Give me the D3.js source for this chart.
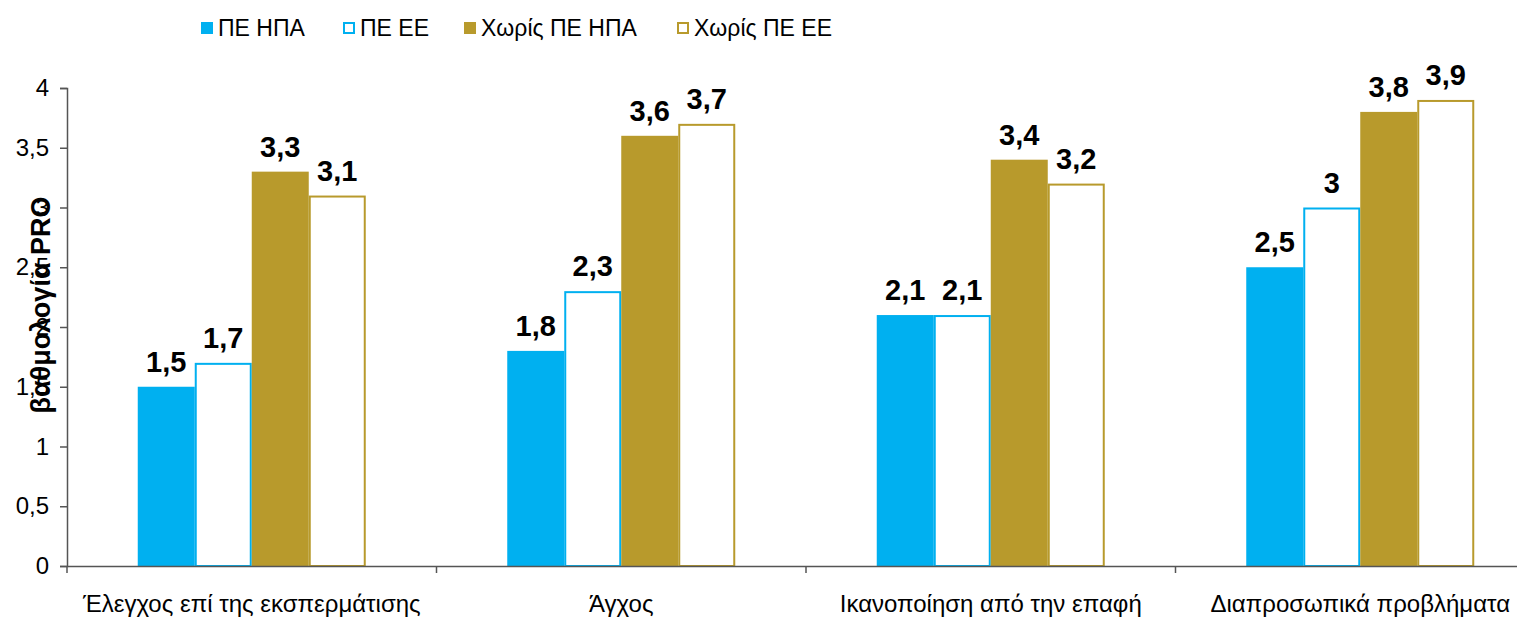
<!DOCTYPE html>
<html><head><meta charset="utf-8">
<script src="https://cdn.jsdelivr.net/npm/d3@7"></script>
<style>
html,body{margin:0;padding:0;background:#fff;}
svg{display:block;font-family:"Liberation Sans",Arial,sans-serif;}
</style></head>
<body><svg id="c" width="1517" height="621"></svg>
<script>
const categories = ["Έλεγχος επί της εκσπερμάτισης","Άγχος","Ικανοποίηση από την επαφή","Διαπροσωπικά προβλήματα"];
const seriesNames = ["ΠΕ ΗΠΑ","ΠΕ ΕΕ","Χωρίς ΠΕ ΗΠΑ","Χωρίς ΠΕ ΕΕ"];
const peUSA = [1.5,1.8,2.1,2.5];
const peEU = [1.7,2.3,2.1,3.0];
const noPeUSA = [3.3,3.6,3.4,3.8];
const noPeEU = [3.1,3.7,3.2,3.9];
const yTicks = [0,0.5,1,1.5,2,2.5,3,3.5,4];
const yLabel = "βαθμολογία PRO";

const seriesValues = [peUSA, peEU, noPeUSA, noPeEU];
const fills = ["#00B0F0","#FFFFFF","#B89A2C","#FFFFFF"];
const strokes = ["#00B0F0","#00B0F0","#B89A2C","#B89A2C"];
const fmt = v => String(v).replace(".", ",");

const svg = d3.select("#c");
const x0 = 67, yBase = 566, yTop = 88, band = 369.5;
const x = d3.scaleBand().domain(categories).range([x0, x0 + band*categories.length]).paddingInner(0).paddingOuter(0);
const y = d3.scaleLinear().domain([0,4]).range([yBase, yTop]);
const groupW = 228;
const xs = d3.scaleBand().domain(seriesNames).range([0, groupW]);

// bars
const g = svg.append("g");
categories.forEach((c, ci) => {
  const gx = x(c) + (x.bandwidth() - groupW)/2;
  seriesNames.forEach((s, si) => {
    const v = seriesValues[si][ci];
    const bx = gx + xs(s), bw = xs.bandwidth();
    const outline = fills[si] === "#FFFFFF";
    g.append("rect")
      .attr("x", outline ? bx + 1 : bx)
      .attr("y", y(v) + (outline ? 1 : 0))
      .attr("width", outline ? bw - 2 : bw)
      .attr("height", yBase - y(v) - (outline ? 1 : 0))
      .attr("fill", fills[si])
      .attr("stroke", outline ? strokes[si] : "none")
      .attr("stroke-width", outline ? 2 : 0);
    g.append("text")
      .attr("x", bx + bw/2)
      .attr("y", y(v) - 15)
      .attr("text-anchor", "middle")
      .attr("font-weight", "bold")
      .attr("font-size", 29)
      .attr("fill", "#000")
      .text(fmt(v));
  });
});

// y axis
const yAxis = d3.axisLeft(y).tickValues(yTicks).tickSize(7).tickPadding(11).tickFormat(fmt);
const ya = svg.append("g").attr("transform", `translate(${x0},0)`).call(yAxis);
ya.select(".domain").attr("stroke", "#555").attr("stroke-width", 1.5);
ya.selectAll(".tick line").attr("stroke", "#555").attr("stroke-width", 1.5);
ya.selectAll(".tick text").attr("font-size", 24).attr("fill", "#000").attr("font-family", "Liberation Sans, Arial, sans-serif");

// x axis
const xAxis = d3.axisBottom(x).tickValues([]).tickSizeOuter(0);
const xa = svg.append("g").attr("transform", `translate(0,${yBase})`).call(xAxis);
xa.select(".domain").attr("stroke", "#555").attr("stroke-width", 1.5);
categories.forEach((c, i) => {
  xa.append("line").attr("x1", x(c)).attr("x2", x(c)).attr("y1", 0).attr("y2", 7).attr("stroke", "#555").attr("stroke-width", 1.5);
});
categories.forEach(c => {
  xa.append("text").attr("x", x(c) + x.bandwidth()/2).attr("y", 46)
    .attr("text-anchor", "middle").attr("font-size", 24).attr("fill", "#000")
    .attr("font-family", "Liberation Sans, Arial, sans-serif").text(c);
});

// y label
svg.append("text").attr("transform", "translate(50,305) rotate(-90)")
  .attr("text-anchor", "middle").attr("font-weight", "bold").attr("font-size", 27)
  .attr("fill", "#000").text(yLabel);

// legend
const legX = [201, 343, 464, 677];
const leg = svg.append("g");
seriesNames.forEach((s, i) => {
  const outline = fills[i] === "#FFFFFF";
  leg.append("rect")
    .attr("x", outline ? legX[i] + 1 : legX[i]).attr("y", outline ? 23 : 22)
    .attr("width", outline ? 10 : 12).attr("height", outline ? 10 : 12)
    .attr("fill", fills[i]).attr("stroke", outline ? strokes[i] : "none").attr("stroke-width", 2);
  leg.append("text").attr("x", legX[i] + 17).attr("y", 36)
    .attr("font-size", 23).attr("fill", "#000").text(s);
});
</script></body></html>
